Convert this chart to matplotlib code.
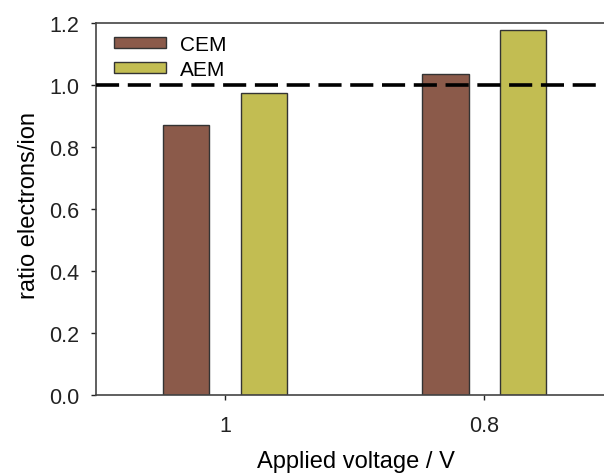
import numpy as np
import matplotlib.pyplot as plt

plt.rcParams['font.family'] = ['Liberation Sans', 'DejaVu Sans']

voltages = ['1', '0.8']
cem = [0.871, 1.035]
aem = [0.974, 1.177]

fig = plt.figure(figsize=(6.04, 4.77), dpi=100)
ax = fig.add_axes([0.159, 0.170, 0.841, 0.780])

x = np.arange(len(voltages))
w = 0.18
ax.bar(x - 0.15, cem, w, color='#8b5a4a', edgecolor='#333333', linewidth=1, label='CEM', zorder=2)
ax.bar(x + 0.15, aem, w, color='#c2bd52', edgecolor='#333333', linewidth=1, label='AEM', zorder=2)
ax.axhline(1.0, color='black', linestyle=(0, (6.4, 2.4)), linewidth=2.6, zorder=3)

ax.set_xlim(-0.498, 1.463)
ax.set_ylim(0, 1.2)
ax.set_xticks(x)
ax.set_xticklabels(voltages)
ax.set_yticks(np.arange(0, 1.21, 0.2))
ax.set_yticklabels(['%.1f' % v for v in np.arange(0, 1.21, 0.2)])
ax.tick_params(axis='both', labelsize=15.5, direction='out', length=3.6, width=1, colors='#222222')
ax.tick_params(axis='x', pad=11)
ax.tick_params(axis='y', pad=8.5)
ax.spines['right'].set_visible(False)
for s in ['left', 'top', 'bottom']:
    ax.spines[s].set_color('#444444')
    ax.spines[s].set_linewidth(1.2)

ax.set_xlabel('Applied voltage / V', fontsize=17)
ax.set_ylabel('ratio electrons/ion', fontsize=17)
ax.xaxis.set_label_coords(0.512, -0.148)
ax.yaxis.set_label_coords(-0.11, 0.511)

ax.legend(loc='upper left', frameon=False, fontsize=15, handlelength=2.5, handleheight=0.45,
          handletextpad=0.67, bbox_to_anchor=(0.019, 0.99), borderaxespad=0, labelspacing=0.28)

fig.savefig('out.png', dpi=100)
